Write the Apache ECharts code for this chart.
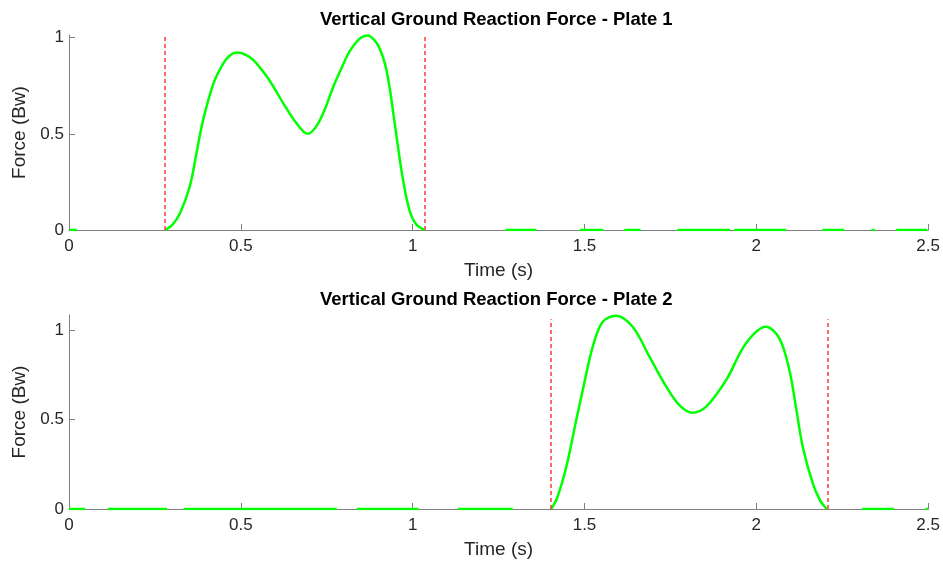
<!DOCTYPE html>
<html>
<head>
<meta charset="utf-8">
<script src="https://cdn.jsdelivr.net/npm/echarts@6/dist/echarts.min.js"></script>
<style>
  html, body { margin: 0; padding: 0; background: #fff; }
  #main { width: 943px; height: 564px; }
</style>
</head>
<body>
<div id="main"></div>
<script>
const FONT = "'Liberation Sans', Arial, sans-serif"

// time (s), force (Bw)
const plate1Force = [
  [0.280, 0], [0.300, 0.025], [0.323, 0.087], [0.352, 0.23], [0.371, 0.40], [0.390, 0.57],
  [0.420, 0.76], [0.449, 0.867], [0.470, 0.91], [0.488, 0.923], [0.510, 0.915], [0.536, 0.885],
  [0.575, 0.80], [0.600, 0.73], [0.623, 0.66], [0.662, 0.555], [0.695, 0.50], [0.720, 0.54],
  [0.745, 0.63], [0.768, 0.74], [0.795, 0.85], [0.817, 0.93], [0.846, 0.995], [0.869, 1.012],
  [0.890, 0.985], [0.905, 0.94], [0.920, 0.86], [0.933, 0.74], [0.952, 0.50], [0.971, 0.27],
  [0.991, 0.10], [1.010, 0.03], [1.035, 0]
]
const plate2Force = [
  [1.403, 0], [1.420, 0.06], [1.447, 0.236], [1.476, 0.497], [1.495, 0.665], [1.524, 0.907],
  [1.553, 1.046], [1.592, 1.08], [1.640, 1.018], [1.689, 0.851], [1.738, 0.683], [1.776, 0.58],
  [1.813, 0.538], [1.854, 0.572], [1.912, 0.72], [1.970, 0.926], [2.028, 1.018], [2.067, 0.953],
  [2.096, 0.777], [2.115, 0.572], [2.135, 0.348], [2.164, 0.144], [2.185, 0.05], [2.205, 0]
]

// stretches of the zero line where the green trace shows
const plate1Zero = [[0.003, 0.023], [1.27, 1.36], [1.486, 1.555], [1.616, 1.663], [1.77, 1.924],
  [1.936, 2.087], [2.192, 2.256], [2.335, 2.345], [2.407, 2.497]]
const plate2Zero = [[0, 0.047], [0.113, 0.285], [0.334, 0.779], [0.837, 1.017], [1.131, 1.291],
  [2.308, 2.401], [2.492, 2.5]]

// contact on/off markers: [time, top of line]
const plate1Events = [[0.28, 1.014], [1.035, 1.014]]
const plate2Events = [[1.403, 1.06], [2.207, 1.06]]

const titles = ['Vertical Ground Reaction Force - Plate 1', 'Vertical Ground Reaction Force - Plate 2']
const yMax = [1.014, 1.084]
const xTicks = [0, 0.5, 1, 1.5, 2, 2.5]
const yTicks = [0, 0.5, 1]

const RED = { color: '#ff3b3b', type: [4, 3], width: 1.5, opacity: 1 }

function zeroSegments(segs) {
  const out = []
  segs.forEach(([a, b]) => {
    out.push([a, 0], [b, 0], [b, '-'])
  })
  return out
}

function xAxisFor(i) {
  return {
    type: 'value', gridIndex: i, min: 0, max: 2.5, interval: 0.5,
    name: 'Time (s)', nameLocation: 'middle', nameGap: 31,
    nameTextStyle: { color: '#262626', fontSize: 19, fontFamily: FONT },
    axisLine: { lineStyle: { color: '#808080', width: 1 } },
    axisTick: { inside: true, length: 6, lineStyle: { color: '#808080' }, customValues: xTicks },
    axisLabel: { color: '#262626', fontSize: 17, fontFamily: FONT, margin: 8, customValues: xTicks },
    splitLine: { show: false },
  }
}

function yAxisFor(i) {
  return {
    type: 'value', gridIndex: i, min: 0, max: yMax[i],
    name: 'Force (Bw)', nameLocation: 'middle', nameGap: 38,
    nameTextStyle: { color: '#262626', fontSize: 19, fontFamily: FONT },
    axisLine: { show: true, lineStyle: { color: '#808080', width: 1 } },
    axisTick: { show: true, inside: true, length: 6, lineStyle: { color: '#808080' }, customValues: yTicks },
    axisLabel: { color: '#262626', fontSize: 17, fontFamily: FONT, margin: 5, customValues: yTicks },
    splitLine: { show: false },
  }
}

function curveSeries(i, data, events) {
  return {
    type: 'line', xAxisIndex: i, yAxisIndex: i,
    data, symbol: 'none', smooth: 0.35,
    lineStyle: { color: '#00ff00', width: 2.5 },
    z: 3,
    markLine: {
      silent: true, symbol: 'none', animation: false,
      label: { show: false },
      lineStyle: RED,
      data: events.map(([t, top]) => [
        { coord: [t, 0], lineStyle: RED },
        { coord: [t, top], lineStyle: RED }
      ]),
    }
  }
}

function baseSeries(i, segs) {
  return {
    type: 'line', xAxisIndex: i, yAxisIndex: i,
    data: zeroSegments(segs), symbol: 'none', connectNulls: false,
    lineStyle: { color: '#00ff00', width: 2.5 },
  }
}

const chart = echarts.init(document.getElementById('main'))
chart.setOption({
  animation: false,
  backgroundColor: '#ffffff',
  title: [
    { text: titles[0], left: 320, top: 10, padding: 0,
      textStyle: { fontSize: 18.5, fontWeight: 'bold', color: '#000', fontFamily: FONT } },
    { text: titles[1], left: 320, top: 290, padding: 0,
      textStyle: { fontSize: 18.5, fontWeight: 'bold', color: '#000', fontFamily: FONT } },
  ],
  grid: [
    { left: 69, width: 860, top: 35, height: 195 },
    { left: 69, width: 860, top: 315, height: 194 },
  ],
  xAxis: [xAxisFor(0), xAxisFor(1)],
  yAxis: [yAxisFor(0), yAxisFor(1)],
  series: [
    baseSeries(0, plate1Zero),
    curveSeries(0, plate1Force, plate1Events),
    baseSeries(1, plate2Zero),
    curveSeries(1, plate2Force, plate2Events),
  ],
})
</script>
</body>
</html>
